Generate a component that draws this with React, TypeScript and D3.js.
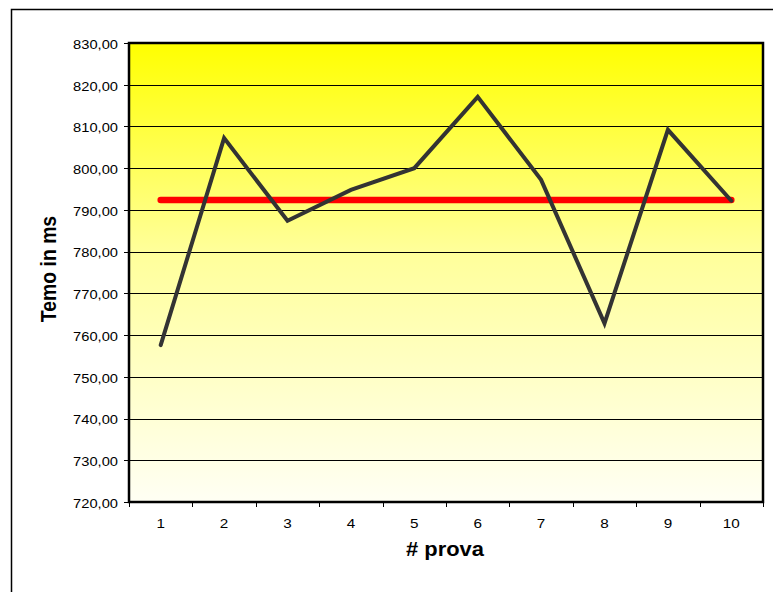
import React from "react";
import * as d3 from "d3";

// Prova numbers along the horizontal axis
const categories: string[] = ["1", "2", "3", "4", "5", "6", "7", "8", "9", "10"];
// Measured times (ms) for each trial
const times: number[] = [757.6, 807.2, 787.4, 794.8, 800.0, 817.1, 797.2, 762.8, 809.2, 792.2];
// Average time line
const average: number[] = [792.4, 792.4, 792.4, 792.4, 792.4, 792.4, 792.4, 792.4, 792.4, 792.4];
// Y-axis ticks
const yTicks: number[] = [720, 730, 740, 750, 760, 770, 780, 790, 800, 810, 820, 830];

const W = 773;
const H = 592;
const plot = { left: 129, right: 763, top: 43, bottom: 502 };
const font = "Arial, 'Liberation Sans', sans-serif";
// text is drawn slightly wider than its natural proportions
const stretch = 1.13;

export default function App() {
  const x = d3
    .scaleBand<string>()
    .domain(categories)
    .range([plot.left, plot.right]);
  const y = d3.scaleLinear().domain([720, 830]).range([plot.bottom, plot.top]);
  const cx = (c: string) => (x(c) ?? 0) + x.bandwidth() / 2;

  const line = d3
    .line<number>()
    .x((_, i) => cx(categories[i]))
    .y((d) => y(d));

  const fmt = (v: number) => v.toFixed(2).replace(".", ",");
  const boundaries = categories.map((c) => x(c) ?? 0).concat([plot.right]);

  return (
    <svg
      width={W}
      height={H}
      style={{ position: "absolute", left: 0, top: 0, background: "#ffffff" }}
    >
      <defs>
        <linearGradient id="bg" x1="0" y1="0" x2="0" y2="1">
          <stop offset="0" stopColor="#ffff00" />
          <stop offset="0.45" stopColor="#ffff99" />
          <stop offset="1" stopColor="#fffff4" />
        </linearGradient>
      </defs>
      {/* outer chart frame */}
      <path d={`M11.5,${H} V9.5 H${W}`} fill="none" stroke="#000" strokeWidth={1.5} />

      <rect
        x={plot.left}
        y={plot.top}
        width={plot.right - plot.left}
        height={plot.bottom - plot.top}
        fill="url(#bg)"
      />
      {/* horizontal gridlines */}
      {yTicks.map((t) => (
        <line
          key={"g" + t}
          x1={plot.left}
          x2={plot.right}
          y1={Math.round(y(t)) + 0.5}
          y2={Math.round(y(t)) + 0.5}
          stroke="#000"
          strokeWidth={1}
        />
      ))}
      {/* y ticks + labels */}
      {yTicks.map((t) => (
        <g key={"y" + t}>
          <line
            x1={plot.left - 5}
            x2={plot.left}
            y1={Math.round(y(t)) + 0.5}
            y2={Math.round(y(t)) + 0.5}
            stroke="#000"
          />
          <text
            transform={`translate(118,${y(t) + 5.8}) scale(${stretch},1)`}
            textAnchor="end"
            fontFamily={font}
            fontSize={13}
            fill="#000"
          >
            {fmt(t)}
          </text>
        </g>
      ))}
      {/* x ticks + labels */}
      {boundaries.map((b, i) => (
        <line
          key={"xt" + i}
          x1={Math.round(b) + 0.5}
          x2={Math.round(b) + 0.5}
          y1={plot.bottom}
          y2={plot.bottom + 5}
          stroke="#000"
        />
      ))}
      {categories.map((c) => (
        <text
          key={"xl" + c}
          transform={`translate(${cx(c)},527.5) scale(${stretch},1)`}
          textAnchor="middle"
          fontFamily={font}
          fontSize={13.5}
          fill="#000"
        >
          {c}
        </text>
      ))}

      {/* plot border */}
      <rect
        x={plot.left}
        y={plot.top}
        width={plot.right - plot.left}
        height={plot.bottom - plot.top}
        fill="none"
        stroke="#000"
        strokeWidth={2.5}
      />

      {/* series */}
      <path
        d={line(average) ?? ""}
        fill="none"
        stroke="#ff0000"
        strokeWidth={6.5}
        strokeLinecap="round"
      />
      <path
        d={line(times) ?? ""}
        fill="none"
        stroke="#333333"
        strokeWidth={4}
        strokeLinejoin="miter"
        strokeLinecap="round"
      />

      {/* axis titles */}
      <text
        transform={`translate(56,269) scale(${stretch},1) rotate(-90)`}
        textAnchor="middle"
        fontFamily={font}
        fontSize={19.4}
        fontWeight="bold"
        fill="#000"
      >
        Temo in ms
      </text>
      <text
        transform={`translate(445,556) scale(${stretch},1)`}
        textAnchor="middle"
        fontFamily={font}
        fontSize={19.4}
        fontWeight="bold"
        fill="#000"
      >
        # prova
      </text>
    </svg>
  );
}
